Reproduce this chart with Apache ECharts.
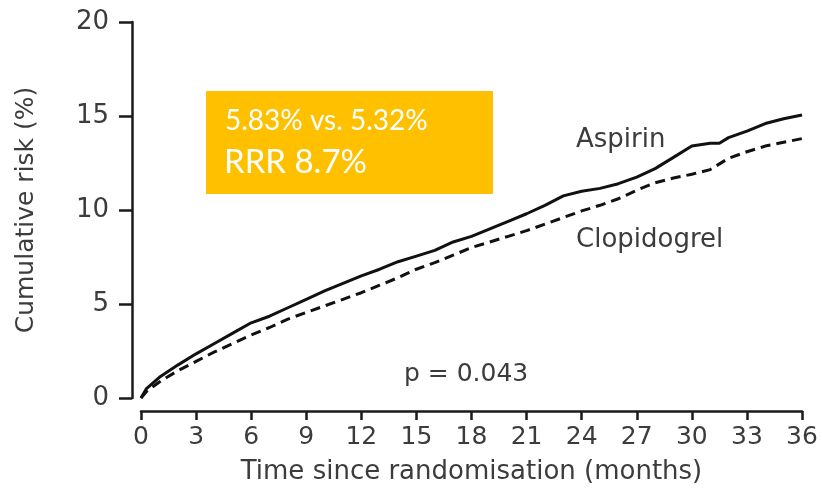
<!DOCTYPE html>
<html>
<head>
<meta charset="utf-8">
<script src="https://cdn.jsdelivr.net/npm/echarts@6/dist/echarts.min.js"></script>
<style>
  html, body { margin: 0; padding: 0; background: #fff; }
  #chart { width: 822px; height: 492px; }
</style>
</head>
<body>
<div id="chart"></div>
<script>
// Cumulative risk curves, months since randomisation
const aspirinMonths = [0, 0.3, 1, 2, 3, 4, 5, 6, 7, 8, 9, 10, 11, 12, 13, 14, 15, 16, 17, 18, 19, 20, 21, 22, 23, 24, 25, 26, 27, 28, 29, 30, 31, 31.5, 32, 33, 34, 35, 36];
const aspirinRisk = [0, 0.5, 1.1, 1.75, 2.35, 2.9, 3.45, 4.0, 4.35, 4.8, 5.25, 5.7, 6.1, 6.5, 6.85, 7.25, 7.55, 7.85, 8.3, 8.6, 9.0, 9.4, 9.8, 10.25, 10.75, 11.0, 11.15, 11.4, 11.75, 12.2, 12.8, 13.4, 13.55, 13.55, 13.85, 14.2, 14.6, 14.85, 15.05];

const clopidogrelMonths = [0, 0.3, 1, 2, 3, 4, 5, 6, 7, 8, 9, 10, 11, 12, 13, 14, 15, 16, 17, 18, 19, 20, 21, 22, 23, 24, 25, 26, 27, 28, 29, 30, 31, 32, 33, 34, 35, 36];
const clopidogrelRisk = [0, 0.35, 0.85, 1.45, 1.95, 2.45, 2.9, 3.35, 3.75, 4.2, 4.55, 4.9, 5.25, 5.6, 6.0, 6.4, 6.85, 7.2, 7.6, 8.0, 8.3, 8.6, 8.9, 9.25, 9.6, 9.95, 10.25, 10.6, 11.05, 11.45, 11.7, 11.9, 12.15, 12.75, 13.1, 13.4, 13.6, 13.8];

const xTicks = [0, 3, 6, 9, 12, 15, 18, 21, 24, 27, 30, 33, 36];
const yTicks = [0, 5, 10, 15, 20];

const seriesNames = ['Aspirin', 'Clopidogrel'];
const boxLines = ['5.83% vs. 5.32%', 'RRR 8.7%'];
const pText = 'p = 0.043';

const zip = (xs, ys) => xs.map((x, i) => [x, ys[i]]);

const textColor = '#3c3c3c';
const font = 'DejaVu Sans';

const chart = echarts.init(document.getElementById('chart'), null, { renderer: 'canvas' });

chart.setOption({
  animation: false,
  backgroundColor: '#ffffff',
  grid: { left: 141, right: 20, top: 22, bottom: 94, containLabel: false },
  xAxis: {
    type: 'value',
    min: xTicks[0],
    max: xTicks[xTicks.length - 1],
    interval: 3,
    offset: 13,
    name: 'Time since randomisation (months)',
    nameLocation: 'middle',
    nameGap: 48,
    nameTextStyle: { fontFamily: font, fontSize: 26, color: textColor },
    axisLine: { show: true, onZero: false, lineStyle: { color: '#1a1a1a', width: 2.5 } },
    axisTick: { show: true, length: 9, lineStyle: { color: '#1a1a1a', width: 2.5 } },
    axisLabel: { fontFamily: font, fontSize: 25, color: textColor, margin: 14 },
    splitLine: { show: false }
  },
  yAxis: {
    type: 'value',
    min: yTicks[0],
    max: yTicks[yTicks.length - 1],
    interval: 5,
    offset: 9,
    name: 'Cumulative risk (%)',
    nameLocation: 'middle',
    nameRotate: 90,
    nameGap: 93,
    nameTextStyle: { fontFamily: font, fontSize: 25, color: textColor },
    axisLine: { show: true, onZero: false, lineStyle: { color: '#1a1a1a', width: 2.5 } },
    axisTick: { show: true, length: 13, lineStyle: { color: '#1a1a1a', width: 2.5 } },
    axisLabel: { fontFamily: font, fontSize: 26, color: textColor, margin: 23 },
    splitLine: { show: false }
  },
  series: [
    {
      name: seriesNames[0],
      type: 'line',
      data: zip(aspirinMonths, aspirinRisk),
      showSymbol: false,
      smooth: false,
      lineStyle: { color: '#111', width: 3, type: 'solid' }
    },
    {
      name: seriesNames[1],
      type: 'line',
      data: zip(clopidogrelMonths, clopidogrelRisk),
      showSymbol: false,
      smooth: false,
      lineStyle: { color: '#111', width: 3, type: [10, 6] }
    }
  ],
  graphic: [
    {
      type: 'rect',
      shape: { x: 206, y: 91, width: 287, height: 103 },
      style: { fill: '#FFC000' },
      z: 10
    },
    {
      type: 'text',
      x: 225, y: 121,
      style: { text: boxLines[0], fill: '#fff', font: '28px Lato', textVerticalAlign: 'middle' },
      z: 11
    },
    {
      type: 'text',
      x: 224, y: 162,
      style: { text: boxLines[1], fill: '#fff', font: '33px Lato', textVerticalAlign: 'middle' },
      z: 11
    },
    {
      type: 'text',
      x: 576, y: 140,
      style: { text: seriesNames[0], fill: textColor, font: '26px "DejaVu Sans"', textVerticalAlign: 'middle' },
      z: 11
    },
    {
      type: 'text',
      x: 576, y: 240,
      style: { text: seriesNames[1], fill: textColor, font: '26px "DejaVu Sans"', textVerticalAlign: 'middle' },
      z: 11
    },
    {
      type: 'text',
      x: 404, y: 374,
      style: { text: pText, fill: textColor, font: '25px "DejaVu Sans"', textVerticalAlign: 'middle' },
      z: 11
    }
  ]
});
</script>
</body>
</html>
